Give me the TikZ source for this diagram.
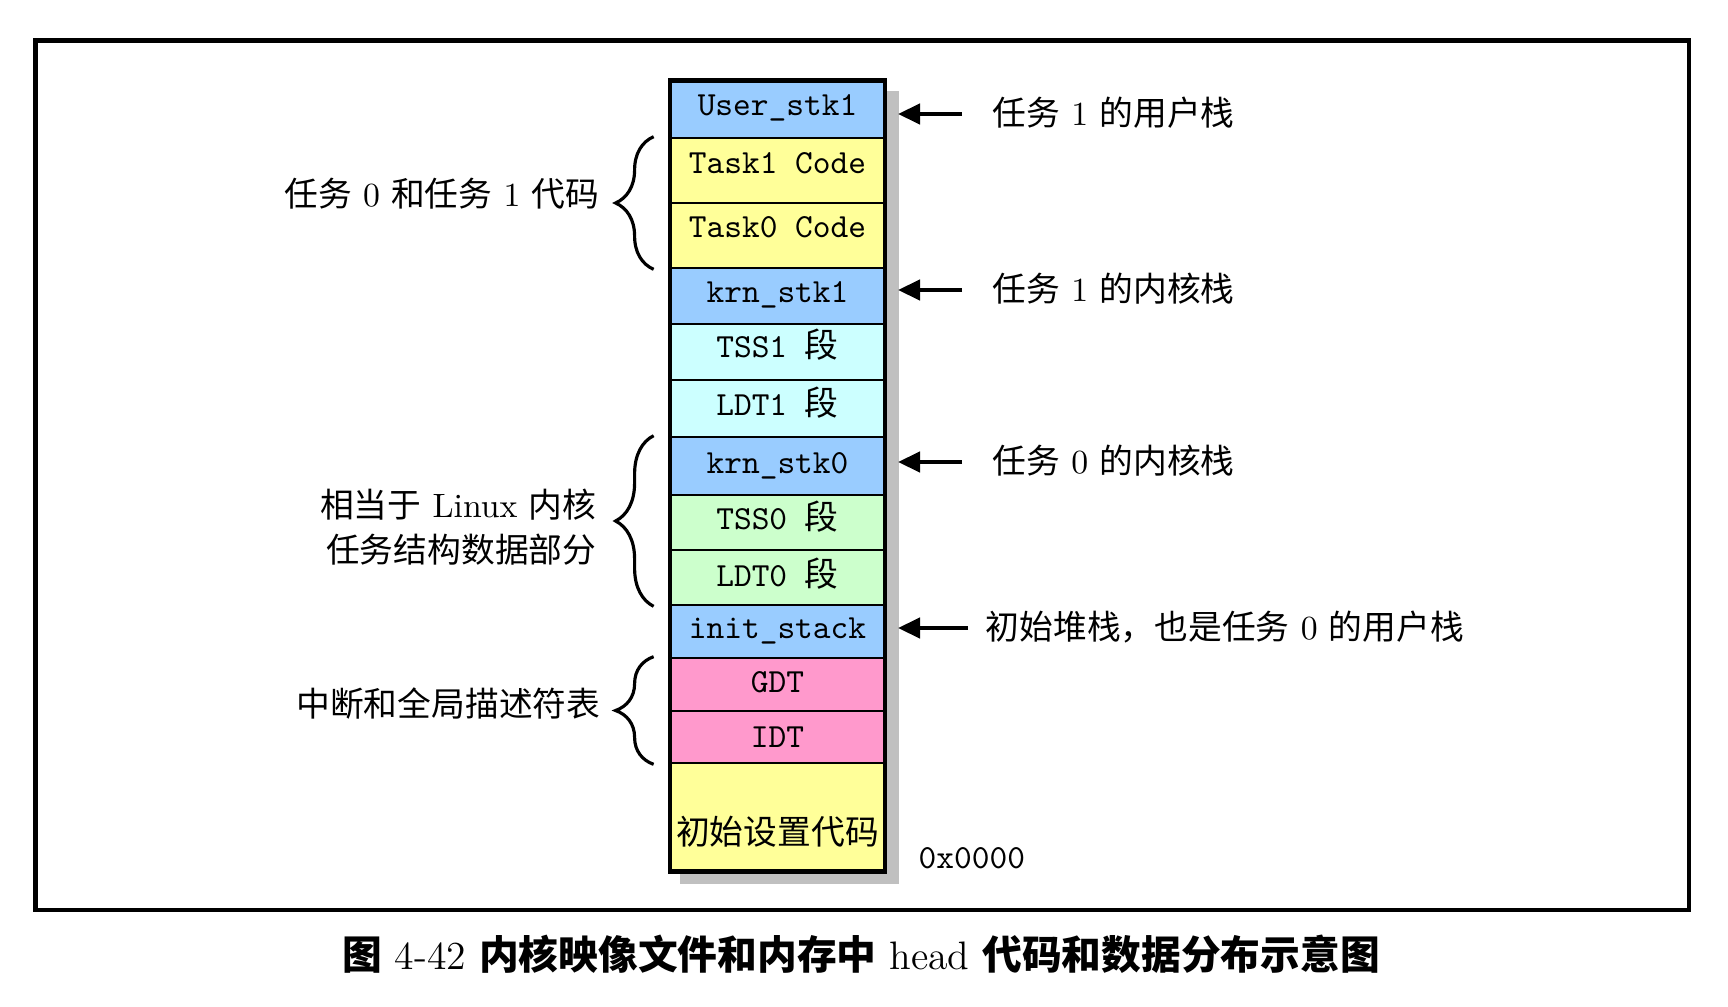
\documentclass[tikz,border=0pt]{standalone}
\usepackage{fontspec}
\newfontfamily\cjk{Noto Sans CJK SC}
\newcommand{\zh}[1]{{\cjk #1}}
\usetikzlibrary{arrows.meta, backgrounds, decorations.pathreplacing}
\definecolor{seg_blue}{HTML}{99CCFF}
\definecolor{seg_yellow}{HTML}{FFFF99}
\definecolor{seg_cyan}{HTML}{CCFFFF}
\definecolor{seg_green}{HTML}{CCFFCC}
\definecolor{seg_pink}{HTML}{FF99CC}
\definecolor{seg_shadow}{HTML}{C0C0C0}

\begin{document}
\begin{tikzpicture}[
    x=0.01cm, y=-0.01cm,
    cell/.style={draw, line width=0.75pt, minimum width=2.13cm, inner sep=0pt},
    cell_text/.style={font=\ttfamily\fontsize{9.6}{12}\selectfont, anchor=base, inner sep=0pt},
    note/.style={font=\fontsize{9.6}{12.8}\selectfont, inner sep=0pt},
    ptr/.style={-{Triangle[length=0.22cm, width=0.2cm]}, line width=1.3pt},
    curly/.style={decorate, decoration={brace, amplitude=0.38cm}, line width=0.9pt}
]
\useasboundingbox (0,0) rectangle (1728,1006);

% ---------------------------------------------------------------
%  Memory image of head: segments listed from the top address
%  down to 0x0000 (name / top / bottom / fill / text baseline)
% ---------------------------------------------------------------
\foreach \nm/\ya/\yb/\clr/\base/\txt in {
    usr1/81.5/138/seg_blue/115/{User\_stk1},
    task1/138/203/seg_yellow/173/{Task1 Code},
    task0/203/268/seg_yellow/237/{Task0 Code},
    krn1/268/324/seg_blue/302/{krn\_stk1},
    tss1/324/380/seg_cyan/357/{TSS1 \zh{段}},
    ldt1/380/437/seg_cyan/415/{LDT1 \zh{段}},
    krn0/437/495/seg_blue/473/{krn\_stk0},
    tss0/495/550/seg_green/529/{TSS0 \zh{段}},
    ldt0/550/605/seg_green/586/{LDT0 \zh{段}},
    init/605/658/seg_blue/638/{init\_stack},
    gdt/658/711/seg_pink/692/{GDT},
    idt/711/763/seg_pink/747/{IDT},
    setup/763/870.5/seg_yellow/844/{\zh{初始设置代码}}%
}{
    \pgfmathsetmacro{\h}{(\yb-\ya)/100}
    \node[cell, fill=\clr, minimum height=\h cm] (\nm) at (777.5, {(\ya+\yb)/2}) {};
    \node[cell_text] (t-\nm) at (777.5, \base) {\txt};
}

% ---- Outer edge and drop shadow of the column ----
\draw[line width=1.15pt] (usr1.north west) rectangle (setup.south east);
\begin{scope}[on background layer]
    \fill[seg_shadow] ([shift={(0.1cm,-0.11cm)}]usr1.north west)
        rectangle ([shift={(0.14cm,-0.125cm)}]setup.south east);
\end{scope}

\node[cell_text, anchor=base west] (addr0) at (918,868) {0x0000};

% ---- Right-hand notes with pointers ----
\node[note, anchor=base west] (lbl_usr)  at (992,125) {\zh{任务} 1 \zh{的用户栈}};
\node[note, anchor=base west] (lbl_krn1) at (992,301) {\zh{任务} 1 \zh{的内核栈}};
\node[note, anchor=base west] (lbl_krn0) at (992,473) {\zh{任务} 0 \zh{的内核栈}};
\node[note, anchor=base west] (lbl_init) at (985,639) {\zh{初始堆栈，也是任务} 0 \zh{的用户栈}};

\coordinate (tip_x) at (898,0);
\foreach \lb/\gap in {usr/0.3, krn1/0.3, krn0/0.3, init/0.17}{
    \coordinate (p_\lb) at ([shift={(-\gap cm,0.11cm)}]lbl_\lb.base west);
    \draw[ptr] (p_\lb) -- (p_\lb -| tip_x);
}

% ---- Left-hand groups with braces ----
\draw[curly] ([xshift=-0.16cm]task0.south west) -- ([xshift=-0.16cm]task1.north west);
\draw[curly] ([xshift=-0.16cm]ldt0.south west)  -- ([xshift=-0.16cm]krn0.north west);
\draw[curly] ([xshift=-0.16cm]idt.south west)   -- ([xshift=-0.16cm]gdt.north west);

\node[note, anchor=base east] (lbl_code) at (600,206) {\zh{任务} 0 \zh{和任务} 1 \zh{代码}};
\node[note, anchor=north east, align=right] (lbl_tss) at (597,488)
    {\zh{相当于} Linux \zh{内核}\\\zh{任务结构数据部分}};
\node[note, anchor=base east] (lbl_int) at (601,716) {\zh{中断和全局描述符表}};

% ---- Frame and caption ----
\draw[line width=1.4pt] (35.5,40.5) rectangle (1689,910);
\node[font=\fontsize{11.3}{13}\selectfont, anchor=base, inner sep=0pt] (caption) at (861,969)
    {{\bfseries\cjk 图} 4-42 {\bfseries\cjk 内核映像文件和内存中} head {\bfseries\cjk 代码和数据分布示意图}};

\end{tikzpicture}
\end{document}
